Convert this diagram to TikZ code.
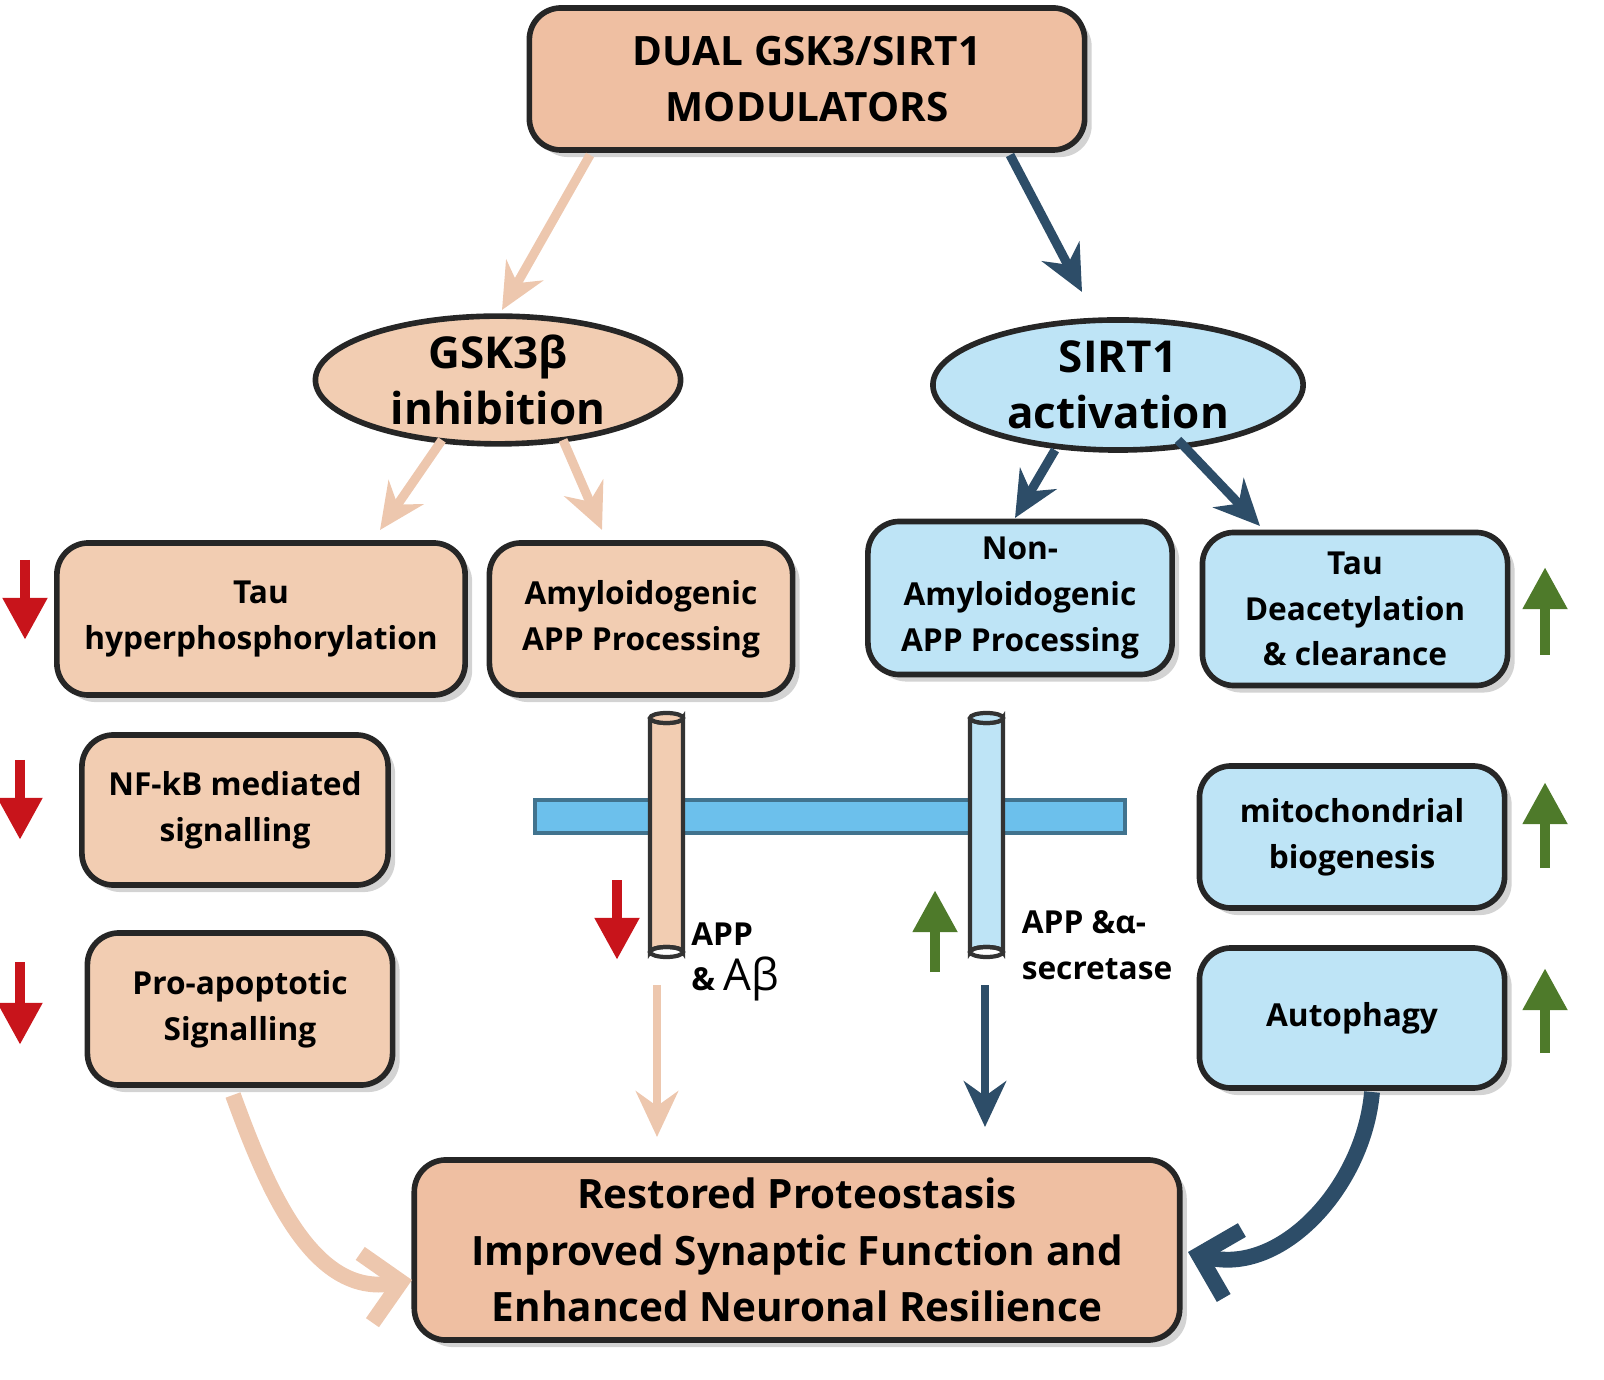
\documentclass[tikz,border=0pt]{standalone}
\usepackage{fontspec}
\setmainfont{Open Sans}
\usetikzlibrary{shapes.geometric,arrows.meta,shadows}
\definecolor{tanf}{HTML}{F2CDB2}
\definecolor{salf}{HTML}{EFBFA2}
\definecolor{bluef}{HTML}{BEE4F6}
\definecolor{memb}{HTML}{6CC0EC}
\definecolor{tanl}{HTML}{EDC7AE}
\definecolor{darkl}{HTML}{2D4D68}
\definecolor{redA}{HTML}{C8141B}
\definecolor{grnA}{HTML}{4E7A2A}
\tikzset{
  box/.style={draw=black!85,line width=1.6pt,rounded corners=9pt,align=center,
    font=\bfseries\fontsize{9}{13}\selectfont,inner sep=2pt,
    drop shadow={shadow xshift=2pt,shadow yshift=-2pt,opacity=.35}},
  tbox/.style={box,fill=tanf},
  bbox/.style={box,fill=bluef},
  oval/.style={ellipse,draw=black!85,line width=1.6pt,align=center,
    font=\bfseries\fontsize{12.5}{16}\selectfont,inner sep=0pt},
  big/.style={box,fill=salf,font=\bfseries\fontsize{11.5}{16}\selectfont},
  tarr/.style={draw=tanl,line width=2.6pt,-{Stealth[length=13pt,width=12pt]}},
  darr/.style={draw=darkl,line width=2.6pt,-{Stealth[length=13pt,width=12pt]}},
  rdown/.style={draw=redA,line width=3pt,-{Triangle[length=12pt,width=12pt]}},
  gup/.style={draw=grnA,line width=3pt,-{Triangle[length=12pt,width=12pt]}},
  cyl/.style={draw=black!80,line width=1.2pt},
}
\begin{document}
\begin{tikzpicture}[x=0.01cm,y=-0.01cm]
\useasboundingbox (0,0) rectangle (1604,1380);
% main boxes
\node[big,minimum width=5.55cm,minimum height=1.42cm] (top) at (807,79) {DUAL GSK3/SIRT1\\MODULATORS};
\node[oval,fill=tanf,minimum width=3.65cm,minimum height=1.25cm] (gsk) at (498,380) {GSK3β\\inhibition};
\node[oval,fill=bluef,minimum width=3.7cm,minimum height=1.3cm] (sirt) at (1118,385) {SIRT1\\activation};
\node[tbox,minimum width=4.08cm,minimum height=1.52cm] (tauh) at (261,619) {Tau\\hyperphosphorylation};
\node[tbox,minimum width=3.03cm,minimum height=1.52cm] (amy) at (641,619) {Amyloidogenic\\APP Processing};
\node[bbox,minimum width=3.04cm,minimum height=1.53cm] (namy) at (1020,598) {Non-\\Amyloidogenic\\APP Processing};
\node[bbox,minimum width=3.05cm,minimum height=1.53cm] (taud) at (1355,609) {Tau\\Deacetylation\\\& clearance};
\node[tbox,minimum width=3.06cm,minimum height=1.5cm] (nfkb) at (235,810) {NF-kB mediated\\signalling};
\node[tbox,minimum width=3.05cm,minimum height=1.52cm] (apo) at (240,1009) {Pro-apoptotic\\Signalling};
\node[bbox,minimum width=3.05cm,minimum height=1.42cm] (mito) at (1352,837) {mitochondrial\\biogenesis};
\node[bbox,minimum width=3.05cm,minimum height=1.4cm] (auto) at (1352,1018) {Autophagy};
\node[big,minimum width=7.65cm,minimum height=1.8cm] (res) at (797,1250) {Restored Proteostasis\\Improved Synaptic Function and\\Enhanced Neuronal Resilience};
% membrane and APP cylinders
\draw[fill=memb,draw=memb!60!black,line width=1pt] (535,800) rectangle (1125,833);
\draw[cyl,fill=tanf] (650,718) -- (650,952) arc[x radius=16.5,y radius=5,start angle=180,end angle=360] -- (683,718) arc[x radius=16.5,y radius=5,start angle=0,end angle=180];
\draw[cyl,fill=tanf] (666.5,718) ellipse[x radius=16.5,y radius=5];
\draw[cyl] (666.5,952) ellipse[x radius=16.5,y radius=5];
\draw[cyl,fill=bluef] (970,718) -- (970,952) arc[x radius=16.5,y radius=5,start angle=180,end angle=360] -- (1003,718) arc[x radius=16.5,y radius=5,start angle=0,end angle=180];
\draw[cyl,fill=bluef] (986.5,718) ellipse[x radius=16.5,y radius=5];
\draw[cyl] (986.5,952) ellipse[x radius=16.5,y radius=5];
\node[font=\bfseries\fontsize{9}{13}\selectfont,align=left] (lab1) at (735,962) {APP\\\& {\mdseries\fontsize{12.5}{13}\selectfont Aβ}};
\node[font=\bfseries\fontsize{9}{13}\selectfont,align=left] (lab2) at (1097,945) {APP \&α-\\secretase};
% coordinates for connectors
\coordinate (t1) at (590,155); \coordinate (g1) at (502,310);
\coordinate (t2) at (1010,155); \coordinate (s1) at (1082,292);
\coordinate (g2) at (442,440); \coordinate (h1) at (380,530);
\coordinate (g3) at (563,440); \coordinate (a1) at (602,530);
\coordinate (s2) at (1055,450); \coordinate (n1) at (1015,518);
\coordinate (s3) at (1178,440); \coordinate (d1) at (1260,526);
\coordinate (c1) at (657,985); \coordinate (c2) at (657,1137);
\coordinate (c3) at (985,985); \coordinate (c4) at (985,1127);
\coordinate (p1) at (233,1095); \coordinate (p2) at (412,1280);
\coordinate (q1) at (1372,1092); \coordinate (q2) at (1188,1252);
\draw[tarr] (t1) -- (g1);
\draw[darr] (t2) -- (s1);
\draw[tarr] (g2) -- (h1);
\draw[tarr] (g3) -- (a1);
\draw[darr] (s2) -- (n1);
\draw[darr] (s3) -- (d1);
\draw[tarr,line width=2.2pt] (c1) -- (c2);
\draw[darr,line width=2.2pt] (c3) -- (c4);
\draw[tarr,line width=4.5pt,-{Straight Barb[length=10pt,width=20pt]}] (p1) to[out=-70,in=190] (p2);
\draw[darr,line width=4.5pt,-{Straight Barb[length=10pt,width=20pt]}] (q1) to[out=-95,in=-15] (q2);
% up / down markers
\coordinate (r1a) at (25,560); \coordinate (r1b) at (25,640);
\coordinate (r2a) at (20,760); \coordinate (r2b) at (20,840);
\coordinate (r3a) at (20,962); \coordinate (r3b) at (20,1045);
\coordinate (r4a) at (617,880); \coordinate (r4b) at (617,960);
\draw[rdown] (r1a) -- (r1b);
\draw[rdown] (r2a) -- (r2b);
\draw[rdown] (r3a) -- (r3b);
\draw[rdown] (r4a) -- (r4b);
\coordinate (u1a) at (1545,655); \coordinate (u1b) at (1545,567);
\coordinate (u2a) at (1545,868); \coordinate (u2b) at (1545,782);
\coordinate (u3a) at (1545,1053); \coordinate (u3b) at (1545,968);
\coordinate (u4a) at (935,972); \coordinate (u4b) at (935,890);
\draw[gup] (u1a) -- (u1b);
\draw[gup] (u2a) -- (u2b);
\draw[gup] (u3a) -- (u3b);
\draw[gup] (u4a) -- (u4b);
\end{tikzpicture}
\end{document}
